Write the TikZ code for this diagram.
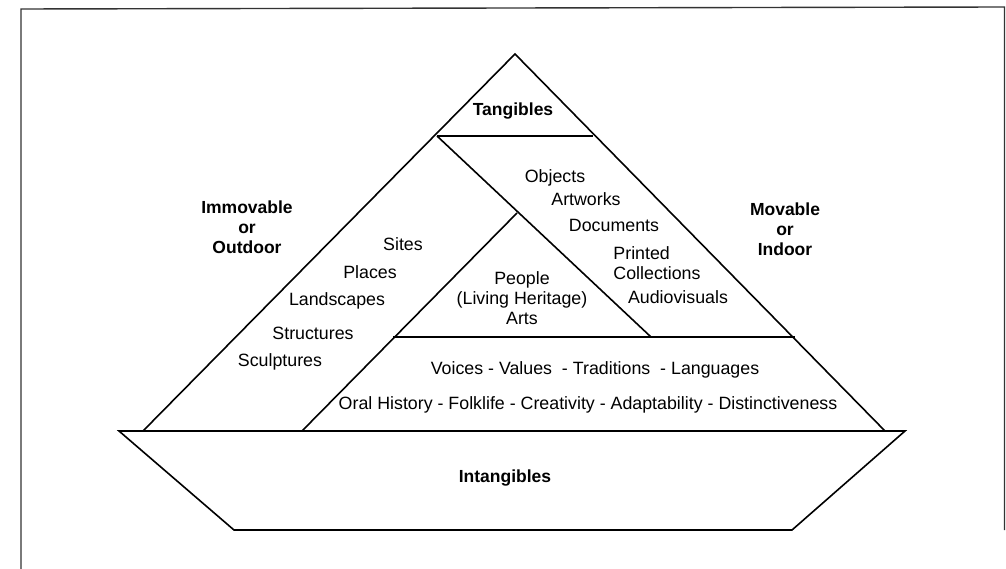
\documentclass[tikz,border=0pt]{standalone}
\usepackage{fontspec}
\setmainfont{Liberation Sans}
\begin{document}
\begin{tikzpicture}[x=1pt,y=-1pt,
  edge/.style={line width=1.6pt,black,line join=miter},
  frame/.style={line width=1.4pt,black!80},
  lbl/.style={font=\fontsize{17.8}{20}\selectfont,inner sep=0pt,align=center},
  blbl/.style={font=\fontsize{17.5}{20}\selectfont\bfseries,inner sep=0pt,align=center}]
\useasboundingbox (0,0) rectangle (1006,569);
% frame
\draw[frame] (21,569) -- (21,9) -- (1004.5,7) -- (1004.5,530);
% key points
\coordinate (apex) at (515,54);
\coordinate (tl) at (437,136);
\coordinate (tr) at (593,136);
\coordinate (bl) at (143,431);
\coordinate (br) at (885,431);
\coordinate (iapex) at (517,213);
\coordinate (ibl) at (393,337);
\coordinate (ibr) at (651,337);
\coordinate (mr) at (795,337);
\coordinate (ol) at (302,431);
\coordinate (btl) at (119,431);
\coordinate (btr) at (905,431);
\coordinate (bbl) at (234,530);
\coordinate (bbr) at (792,530);
% big triangle
\draw[edge] (bl) -- (apex) -- (br);
\draw[edge] (tl) -- (tr);
\draw[edge] (tl) -- (ibr);
\draw[edge] (ol) -- (iapex);
\draw[edge] (ibl) -- (mr);
% boat
\draw[edge] (btl) -- (btr) -- (bbr) -- (bbl) -- cycle;
% labels
\node[blbl] (tang) at (513,111) {Tangibles};
\node[blbl] (immov) at (247,227) {Immovable\\or\\Outdoor};
\node[blbl] (mov) at (785,229) {Movable\\or\\Indoor};
\node[lbl] (sites) at (403,244) {Sites};
\node[lbl] (places) at (370,272) {Places};
\node[lbl] (lands) at (337,301) {Landscapes};
\node[lbl] (struct) at (313,333) {Structures};
\node[lbl] (sculpt) at (280,362) {Sculptures};
\node[lbl] (obj) at (555,178) {Objects};
\node[lbl] (art) at (586,199) {Artworks};
\node[lbl] (doc) at (614,225) {Documents};
\node[lbl,align=left] (print) at (657,263) {Printed\\Collections};
\node[lbl] (audio) at (678,297) {Audiovisuals};
\node[lbl] (people) at (522,298) {People\\(Living Heritage)\\Arts};
\node[lbl] (voices) at (595,370) {Voices - Values\ \ - Traditions\ \ - Languages};
\node[lbl] (oral) at (588,405) {Oral History - Folklife - Creativity - Adaptability - Distinctiveness};
\node[blbl] (intang) at (505,478) {Intangibles};
\end{tikzpicture}
\end{document}
